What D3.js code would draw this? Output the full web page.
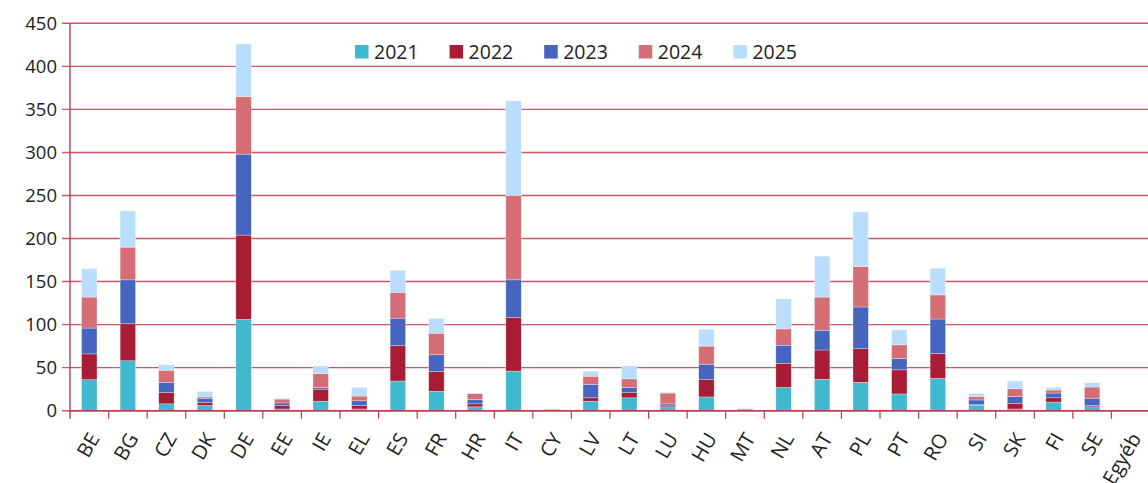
<!DOCTYPE html>
<html>
<head>
<meta charset="utf-8">
<script src="https://cdn.jsdelivr.net/npm/d3@7"></script>
<style>
  body { margin: 0; background: #fff; }
  svg { font-family: "Open Sans", "Noto Sans", sans-serif; }
</style>
</head>
<body>
<svg id="chart" width="1148" height="483"></svg>
<script>
// Országok és évenkénti értékek
const countries = ["BE","BG","CZ","DK","DE","EE","IE","EL","ES","FR","HR","IT","CY","LV","LT","LU","HU","MT","NL","AT","PL","PT","RO","SI","SK","FI","SE","Egyéb"];
const years = ["2021","2022","2023","2024","2025"];
const v2021 = [36, 58, 8, 6, 106, 2, 11, 2, 34.5, 22.5, 4.5, 46, 0.3, 11, 15, 4.5, 16, 0.3, 27, 36.5, 33, 19.5, 37.5, 6.5, 2, 10, 4.5, 0];
const v2022 = [30, 43, 13, 3.5, 98, 4, 14, 4, 41, 23, 3.5, 62.5, 0.3, 4, 6, 2, 20, 0.5, 28, 34, 39, 28, 29, 0.5, 6.5, 5, 1.5, 0];
const v2023 = [30, 51, 12, 5, 94, 3, 2, 5.5, 32, 19.5, 5, 43.5, 0.3, 15.5, 6, 1.5, 18, 1, 21, 23, 48.5, 13, 40, 5.5, 8, 5.5, 8.5, 0];
const v2024 = [36, 38, 14, 1.5, 67, 4.5, 16, 5.5, 30, 25, 7, 98, 1, 9.5, 10, 12.5, 21, 0.5, 19, 38.5, 47, 16, 28, 4, 9, 3.5, 13, 0];
const v2025 = [33, 42, 6.5, 6.5, 61, 1, 9, 10, 25.5, 17, 0.5, 110, 0.3, 6, 15, 1, 19.5, 0.5, 35, 47.5, 63.5, 17.5, 31, 3.5, 9, 3, 5, 0];
const yTicks = [0, 50, 100, 150, 200, 250, 300, 350, 400, 450];
const colors = ["#40b8ce", "#a81d33", "#4565bf", "#d46e74", "#b9ddfd"];

const series = [v2021, v2022, v2023, v2024, v2025];
const rows = countries.map((c, i) => {
  const r = { country: c };
  years.forEach((y, j) => r[y] = series[j][i]);
  return r;
});

const svg = d3.select("#chart");
const mLeft = 70, mRight = 1150, mTop = 23.3, mBottom = 410.7;
const gridColor = "#c23b4d";

const x = d3.scaleBand().domain(countries).range([mLeft, mRight]).paddingInner(0.6).paddingOuter(0.3);
const y = d3.scaleLinear().domain([0, 450]).range([mBottom, mTop]);

// Rácsvonalak
svg.append("g")
  .selectAll("line")
  .data(yTicks)
  .join("line")
  .attr("x1", mLeft - 8)
  .attr("x2", 1148)
  .attr("y1", d => y(d))
  .attr("y2", d => y(d))
  .attr("stroke", gridColor)
  .attr("stroke-opacity", 0.85)
  .attr("stroke-width", 1.4);

// Y tengely feliratai
svg.append("g")
  .selectAll("text")
  .data(yTicks)
  .join("text")
  .attr("x", 57)
  .attr("y", d => y(d))
  .attr("dy", "0.36em")
  .attr("text-anchor", "end")
  .attr("font-size", 18.5)
  .attr("fill", "#222")
  .text(d => d);

// Halmozott oszlopok
const stack = d3.stack().keys(years)(rows);
svg.append("g")
  .selectAll("g")
  .data(stack)
  .join("g")
  .attr("fill", (d, i) => colors[i])
  .selectAll("rect")
  .data(d => d)
  .join("rect")
  .attr("x", d => x(d.data.country))
  .attr("width", x.bandwidth())
  .attr("y", d => y(d[1]))
  .attr("height", d => y(d[0]) - y(d[1]))
  .attr("stroke", "rgba(255,255,255,0.5)")
  .attr("stroke-width", 0.6);

// Tengelyvonalak
svg.append("line")
  .attr("x1", mLeft).attr("x2", mLeft)
  .attr("y1", mTop).attr("y2", mBottom + 8)
  .attr("stroke", gridColor).attr("stroke-width", 1.4);
svg.append("line")
  .attr("x1", mLeft).attr("x2", 1148)
  .attr("y1", mBottom).attr("y2", mBottom)
  .attr("stroke", gridColor).attr("stroke-width", 1.6);

// Kategória osztások
const step = x.step();
svg.append("g")
  .selectAll("line")
  .data(countries)
  .join("line")
  .attr("x1", d => x(d) - (step - x.bandwidth()) / 2 + step)
  .attr("x2", d => x(d) - (step - x.bandwidth()) / 2 + step)
  .attr("y1", mBottom)
  .attr("y2", mBottom + 8)
  .attr("stroke", gridColor)
  .attr("stroke-width", 1.2);

// X tengely feliratai
svg.append("g")
  .selectAll("text")
  .data(countries)
  .join("text")
  .attr("transform", d => `translate(${x(d) + x.bandwidth() / 2 + 5},${mBottom + 24}) rotate(-60)`)
  .attr("text-anchor", "end")
  .attr("dy", "0.35em")
  .attr("font-size", 20)
  .attr("fill", "#222")
  .text(d => d);

// Jelmagyarázat
const legend = svg.append("g")
  .selectAll("g")
  .data(years)
  .join("g")
  .attr("transform", (d, i) => `translate(${355 + i * 94.6},45)`);
legend.append("rect")
  .attr("width", 13.5).attr("height", 13.5)
  .attr("fill", (d, i) => colors[i]);
legend.append("text")
  .attr("x", 19).attr("y", 6.8).attr("dy", "0.36em")
  .attr("font-size", 19.5)
  .attr("fill", "#222")
  .text(d => d);
</script>
</body>
</html>
